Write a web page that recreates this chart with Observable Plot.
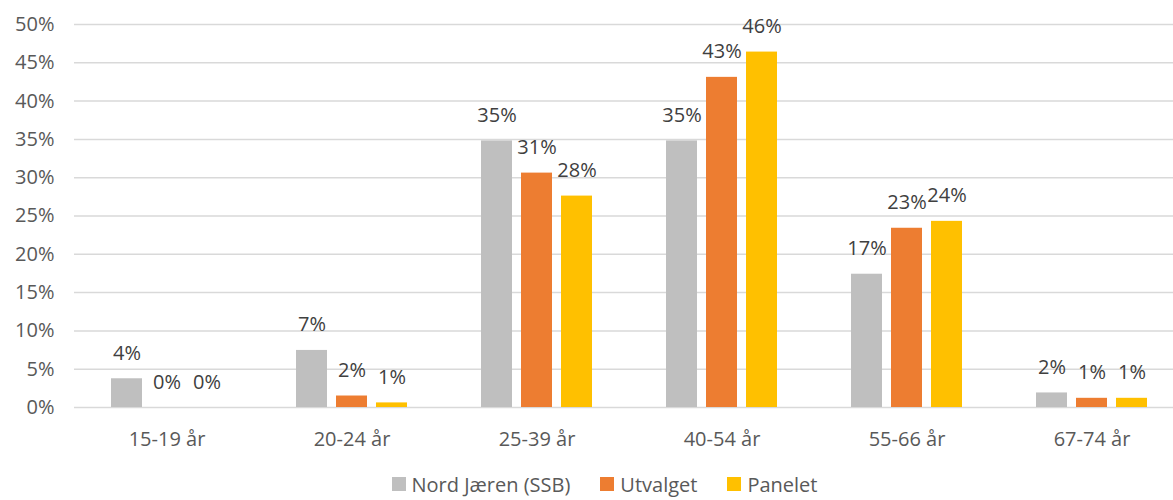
<!DOCTYPE html>
<html>
<head>
<meta charset="utf-8">
<script src="https://cdn.jsdelivr.net/npm/d3@7"></script>
<script src="https://cdn.jsdelivr.net/npm/@observablehq/plot@0.6"></script>
<style>
  html, body { margin: 0; padding: 0; background: #fff; overflow: hidden; }
  #chart { width: 1173px; overflow: hidden; }
  .legend { display: flex; justify-content: center; align-items: center; height: 28px; padding-top: 0px;
    font-family: "Open Sans", sans-serif; font-size: 20px; color: #595959; padding-left: 36px; }
  .legend .item { display: flex; align-items: center; margin: 0 15px; }
  .legend .sw { width: 14px; height: 14px; margin-right: 6px; }
</style>
</head>
<body>
<div id="chart"></div>
<script>
const categories = ["15-19 år", "20-24 år", "25-39 år", "40-54 år", "55-66 år", "67-74 år"];
const series = ["Nord Jæren (SSB)", "Utvalget", "Panelet"];
const colors = ["#BFBFBF", "#ED7D31", "#FFC000"];
const nordJaeren = [0.0375, 0.0745, 0.348, 0.348, 0.174, 0.019];
const utvalget   = [0.0,    0.015,  0.306, 0.431, 0.234, 0.012];
const panelet    = [0.0,    0.006,  0.276, 0.464, 0.243, 0.012];
const yTicks = [0, 0.05, 0.10, 0.15, 0.20, 0.25, 0.30, 0.35, 0.40, 0.45, 0.50];

const values = [nordJaeren, utvalget, panelet];
const data = categories.flatMap((c, i) =>
  series.map((s, j) => ({category: c, series: s, value: values[j][i]})));

const chart = Plot.plot({
  width: 1173,
  height: 470,
  marginLeft: 72,
  marginRight: -13,
  marginTop: 24,
  marginBottom: 63,
  style: {fontFamily: "Open Sans, sans-serif", fontSize: "20px", color: "#595959", background: "#fff", overflow: "hidden"},
  fx: {domain: categories, padding: 0, label: null, axis: "bottom", tickSize: 0, tickPadding: 24},
  x: {domain: series, padding: 0.22, paddingOuter: 0.868, axis: null},
  y: {domain: [0, 0.5], ticks: yTicks, tickFormat: d3.format(".0%"), tickSize: 0, tickPadding: 20, label: null},
  color: {domain: series, range: colors},
  marks: [
    Plot.gridY(yTicks, {stroke: "#D9D9D9", strokeOpacity: 1, strokeWidth: 1.5}),
    Plot.barY(data, {fx: "category", x: "series", y: "value", fill: "series"}),
    Plot.text(data, {fx: "category", x: "series", y: "value",
      text: d => Math.round(d.value * 100) + "%",
      dy: -19, lineAnchor: "bottom", fill: "#404040", fontSize: 20})
  ]
});
document.getElementById("chart").appendChild(chart);

const legend = document.createElement("div");
legend.className = "legend";
series.forEach((s, i) => {
  const item = document.createElement("div");
  item.className = "item";
  const sw = document.createElement("span");
  sw.className = "sw";
  sw.style.background = colors[i];
  const t = document.createElement("span");
  t.textContent = s;
  item.appendChild(sw); item.appendChild(t);
  legend.appendChild(item);
});
document.getElementById("chart").appendChild(legend);
</script>
</body>
</html>
